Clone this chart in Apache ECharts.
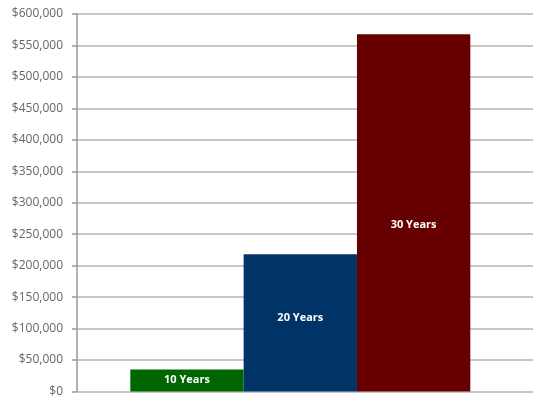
<!DOCTYPE html>
<html>
<head>
<meta charset="utf-8">
<script src="https://cdn.jsdelivr.net/npm/echarts@6/dist/echarts.min.js"></script>
<style>html,body{margin:0;padding:0;background:#fff;}#c{width:533px;height:398px;}</style>
</head>
<body>
<div id="c"></div>
<script>
const categories = ['10 Years', '20 Years', '30 Years'];
const values = [35000, 218000, 568000];
const yTicks = [0, 50000, 100000, 150000, 200000, 250000, 300000, 350000, 400000, 450000, 500000, 550000, 600000];
const colors = ['#006600', '#003366', '#660000'];
const labelOffsets = [[0, -1], [0, -5], [0, 12]];

const chart = echarts.init(document.getElementById('c'), null, {renderer: 'canvas'});
const fmt = v => '$' + v.toLocaleString('en-US');
chart.setOption({
  animation: false,
  grid: [
    {left: 77, right: 0, top: 14, bottom: 6.5},
    {left: 130.3, right: 62.7, top: 14, bottom: 6.5}
  ],
  xAxis: [
    {type: 'category', gridIndex: 0, data: [''], show: false},
    {type: 'category', gridIndex: 1, data: categories, show: false, boundaryGap: true}
  ],
  yAxis: [
    {
      type: 'value', gridIndex: 0, min: yTicks[0], max: yTicks[yTicks.length - 1], interval: 50000,
      axisLine: {show: true, lineStyle: {color: '#999', width: 1.5}},
      axisTick: {show: true, length: 5, lineStyle: {color: '#999', width: 1.5}},
      axisLabel: {margin: 14, color: '#666', fontFamily: 'Open Sans', fontSize: 12, formatter: fmt},
      splitLine: {show: true, lineStyle: {color: '#b4b4b4', width: 1.5}}
    },
    {type: 'value', gridIndex: 1, min: yTicks[0], max: yTicks[yTicks.length - 1], show: false, splitLine: {show: false}}
  ],
  series: [{
    type: 'bar',
    xAxisIndex: 1, yAxisIndex: 1,
    barWidth: '100%',
    data: values.map((v, i) => ({
      value: v,
      itemStyle: {color: colors[i]},
      label: {offset: labelOffsets[i]}
    })),
    label: {
      show: true, position: 'inside',
      formatter: p => categories[p.dataIndex],
      color: '#fff', fontFamily: 'Open Sans', fontWeight: 'bold', fontSize: 11
    }
  }]
});
</script>
</body>
</html>
